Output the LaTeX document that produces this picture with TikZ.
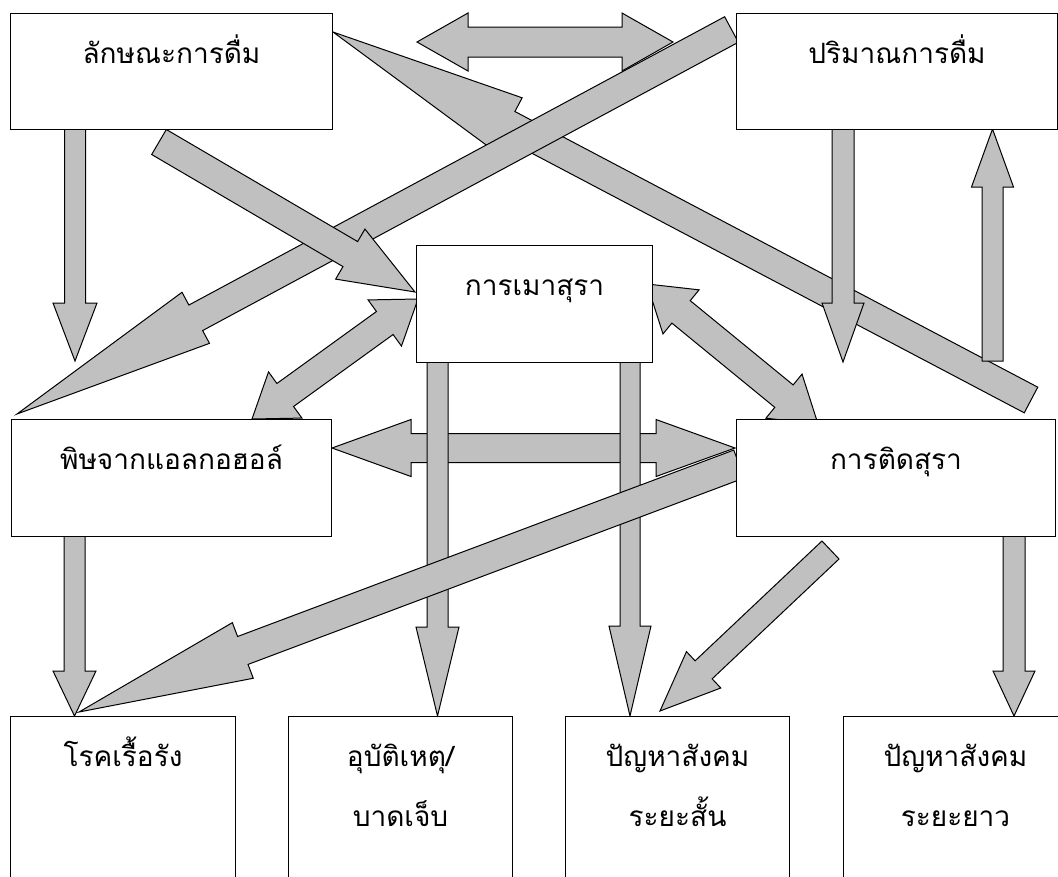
\documentclass[tikz,border=0pt]{standalone}
\usepackage{fontspec}
\newfontfamily\thaifont[Script=Thai]{Loma}
\usetikzlibrary{calc}
\definecolor{arrowgray}{HTML}{C0C0C0}

\tikzset{
  box/.style={draw=black, fill=white, line width=1pt, inner sep=0pt,
    anchor=north west, align=center, text height=50pt,
    font=\thaifont\fontsize{28}{60}\selectfont},
  blk/.style={draw=black, fill=arrowgray, line width=1pt, line join=miter},
}

% block arrow with one head: #1 tail, #2 tip, #3 shaft half-width,
% #4 head half-width, #5 head length (all in pt)
\newcommand\blockarrow[5]{%
  \coordinate (ba-b) at ($(#2)!#5pt!(#1)$);
  \draw[blk] ($(#1)!#3pt!90:(#2)$) -- ($(ba-b)!#3pt!90:(#2)$)
    -- ($(ba-b)!#4pt!90:(#2)$) -- (#2) -- ($(ba-b)!#4pt!-90:(#2)$)
    -- ($(ba-b)!#3pt!-90:(#2)$) -- ($(#1)!#3pt!-90:(#2)$) -- cycle;
}
% block arrow with a head at both ends: #1 and #2 the two tips
\newcommand\twinarrow[5]{%
  \coordinate (ta-a) at ($(#1)!#5pt!(#2)$);
  \coordinate (ta-b) at ($(#2)!#5pt!(#1)$);
  \draw[blk] (#1) -- ($(ta-a)!#4pt!90:(#2)$) -- ($(ta-a)!#3pt!90:(#2)$)
    -- ($(ta-b)!#3pt!90:(#2)$) -- ($(ta-b)!#4pt!90:(#2)$) -- (#2)
    -- ($(ta-b)!#4pt!-90:(#2)$) -- ($(ta-b)!#3pt!-90:(#2)$)
    -- ($(ta-a)!#3pt!-90:(#2)$) -- ($(ta-a)!#4pt!-90:(#2)$) -- cycle;
}

\begin{document}
\begin{tikzpicture}[x=1pt,y=-1pt]
\useasboundingbox (0,0) rectangle (1058,876);
\clip (0,0) rectangle (1058,876);

% ends of the connectors
\coordinate (char-qty-a) at (417,42);
\coordinate (char-qty-b) at (673,42);
\coordinate (addict-char-t) at (1031,400);
\coordinate (addict-char-h) at (333,32);
\coordinate (qty-tox-t) at (731.5,29.5);
\coordinate (qty-tox-h) at (17,414);
\coordinate (char-drunk-t) at (159,142);
\coordinate (char-drunk-h) at (415,292);
\coordinate (tox-drunk-a) at (252,419);
\coordinate (tox-drunk-b) at (418,299);
\coordinate (drunk-addict-a) at (647,284);
\coordinate (drunk-addict-b) at (818,424);
\coordinate (qty-addict-t) at (843,129);
\coordinate (qty-addict-h) at (843,362);
\coordinate (addict-qty-t) at (992.5,361);
\coordinate (addict-qty-h) at (992.5,129);
\coordinate (char-tox-t) at (75,129);
\coordinate (char-tox-h) at (75,361);
\coordinate (tox-addict-a) at (332,448);
\coordinate (tox-addict-b) at (735,448);
\coordinate (drunk-acc-t) at (437.5,362);
\coordinate (drunk-acc-h) at (437.5,716);
\coordinate (drunk-short-t) at (630,362);
\coordinate (drunk-short-h) at (630,716);
\coordinate (addict-chr-t) at (739,464);
\coordinate (addict-chr-h) at (79,712);
\coordinate (addict-short-t) at (830.5,550);
\coordinate (addict-short-h) at (660,711);
\coordinate (addict-long-t) at (1014,536);
\coordinate (addict-long-h) at (1014,716);
\coordinate (tox-chr-t) at (74.5,536);
\coordinate (tox-chr-h) at (74.5,716);

% connectors, back to front
\twinarrow{char-qty-a}{char-qty-b}{15}{29}{51}
\blockarrow{addict-char-t}{addict-char-h}{14.5}{30}{198}
\blockarrow{qty-tox-t}{qty-tox-h}{14.5}{29}{203}
\blockarrow{char-drunk-t}{char-drunk-h}{14.5}{29}{75}
\twinarrow{tox-drunk-a}{tox-drunk-b}{14.2}{28.5}{41}
\twinarrow{drunk-addict-a}{drunk-addict-b}{14.5}{28.5}{44}
\blockarrow{qty-addict-t}{qty-addict-h}{11}{21}{59}
\blockarrow{addict-qty-t}{addict-qty-h}{10.5}{21}{58}
\blockarrow{char-tox-t}{char-tox-h}{10.5}{22}{58}
\twinarrow{tox-addict-a}{tox-addict-b}{14.5}{28.5}{79}
\blockarrow{drunk-acc-t}{drunk-acc-h}{10.5}{21.5}{89}
\blockarrow{drunk-short-t}{drunk-short-h}{10}{21}{90}
\blockarrow{addict-chr-t}{addict-chr-h}{14.9}{29.7}{175}
\blockarrow{addict-short-t}{addict-short-h}{12.4}{25}{60}
\blockarrow{addict-long-t}{addict-long-h}{11}{21}{45}
\blockarrow{tox-chr-t}{tox-chr-h}{10.5}{21.5}{45}

% boxes
\node[box, text width=322pt, text depth=66pt] (char) at (10,13) {ลักษณะการดื่ม};
\node[box, text width=321pt, text depth=66pt] (qty) at (736,13) {ปริมาณการดื่ม};
\node[box, text width=236pt, text depth=67pt] (drunk) at (416,245) {การเมาสุรา};
\node[box, text width=320pt, text depth=67pt] (tox) at (11,419) {พิษจากแอลกอฮอล์};
\node[box, text width=319pt, text depth=67pt] (addict) at (736,419) {การติดสุรา};
\node[box, text width=225pt, text depth=150pt] (chronic) at (10,716) {โรคเรื้อรัง};
\node[box, text width=224pt, text depth=150pt] (accident) at (288,716) {อุบัติเหตุ/\\บาดเจ็บ};
\node[box, text width=224pt, text depth=150pt] (socshort) at (565,716) {ปัญหาสังคม\\ระยะสั้น};
\node[box, text width=224pt, text depth=150pt] (soclong) at (843,716) {ปัญหาสังคม\\ระยะยาว};
\end{tikzpicture}
\end{document}
